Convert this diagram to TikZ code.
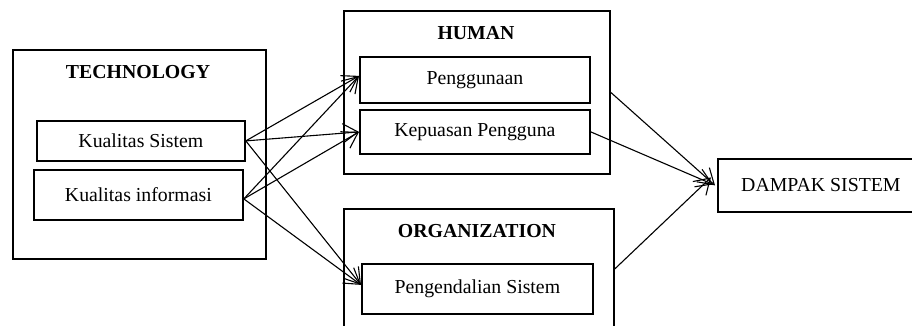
\documentclass[tikz,border=0pt]{standalone}
\usepackage{fontspec}
\setmainfont{Liberation Serif}
\usetikzlibrary{arrows.meta}
\tikzset{
  outerbox/.style={draw, line width=1.8pt, anchor=north west, inner sep=0pt},
  innerbox/.style={draw, line width=1.8pt, anchor=north west, inner sep=0pt},
  boxtext/.style={font=\fontsize{19.8}{23}\selectfont},
  titletext/.style={font=\fontsize{19.8}{23}\selectfont\bfseries},
  link/.style={line width=1.1pt, -{Straight Barb[length=15pt,width=19pt,line width=1.1pt]}}
}
\begin{document}
\begin{tikzpicture}[x=1pt,y=-1pt]
\useasboundingbox (0,0) rectangle (912,326);
\clip (0,0) rectangle (912,326);
% outer groups
\node[outerbox, minimum width=253pt, minimum height=209pt] (tech) at (12,49) {};
\node[outerbox, minimum width=266pt, minimum height=163pt] (human) at (343,10) {};
\node[outerbox, minimum width=270pt, minimum height=120pt] (org) at (343,208) {};
% titles
\node[titletext] (techt) at (138,72) {TECHNOLOGY};
\node[titletext] (humant) at (476,33) {HUMAN};
\node[titletext] (orgt) at (477,231) {ORGANIZATION};
% inner boxes
\node[innerbox, minimum width=208pt, minimum height=40pt] (ks) at (36,120) {};
\node[boxtext] at (ks.center) {Kualitas Sistem};
\node[innerbox, minimum width=209pt, minimum height=50pt] (ki) at (33,169) {};
\node[boxtext] at (ki.center) {Kualitas informasi};
\node[innerbox, minimum width=230pt, minimum height=46pt] (pg) at (359,56) {};
\node[boxtext] at (pg.center) {Penggunaan};
\node[innerbox, minimum width=230pt, minimum height=44pt] (kp) at (359,109) {};
\node[boxtext] at (kp.center) {Kepuasan Pengguna};
\node[innerbox, minimum width=231pt, minimum height=50pt] (ps) at (361,263) {};
\node[boxtext] at (ps.center) {Pengendalian Sistem};
\node[innerbox, minimum width=220pt, minimum height=53pt] (dp) at (717,158) {};
\node[boxtext] at ([xshift=-7pt]dp.center) {DAMPAK SISTEM};
% connectors
\draw[link] (ks.east) -- ([yshift=4pt]pg.west);
\draw[link] (ks.east) -- (kp.west);
\draw[link] (ks.east) -- ([yshift=4pt]ps.west);
\draw[link] ([yshift=-4pt]ki.east) -- ([yshift=4pt]pg.west);
\draw[link] ([yshift=-4pt]ki.east) -- (kp.west);
\draw[link] ([yshift=-4pt]ki.east) -- ([yshift=4pt]ps.west);
\draw[link] (human.east) -- ([xshift=-2pt]dp.west);
\draw[link] (kp.east) -- ([xshift=-4pt,yshift=1pt]dp.west);
\draw[link] (org.east) -- ([xshift=-6pt,yshift=8pt]dp.west);
\end{tikzpicture}
\end{document}
